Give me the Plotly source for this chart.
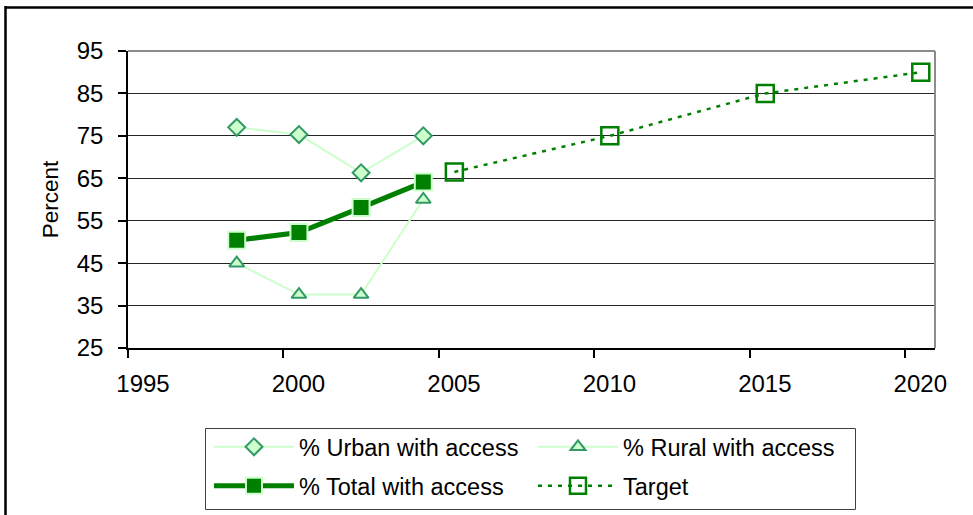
import plotly.graph_objects as go

# Survey rounds (mid-year) and access rates, percent
survey_dates = ["1998-07-01", "2000-07-01", "2002-07-01", "2004-07-01"]
urban_access = [77.0, 75.3, 66.3, 75.0]
rural_access = [45.0, 37.6, 37.6, 60.0]
total_access = [50.4, 52.2, 58.1, 64.1]

# Target path
target_dates = ["2005-07-01", "2010-07-01", "2015-07-01", "2020-07-01"]
target_values = [66.5, 75.0, 85.0, 90.0]

tick_years = [1995, 2000, 2005, 2010, 2015, 2020]

FONT = "Liberation Sans, Arial, sans-serif"
PALE = "#CCFFCC"
SEA = "#339966"
GREEN = "#008000"

fig = go.Figure()

fig.add_trace(go.Scatter(
    x=survey_dates, y=urban_access, name="% Urban with access",
    mode="lines+markers", legend="legend",
    line=dict(color=PALE, width=2),
    marker=dict(symbol="diamond", size=13, color=PALE,
                line=dict(color=SEA, width=2)),
))
fig.add_trace(go.Scatter(
    x=survey_dates, y=rural_access, name="% Rural with access",
    mode="lines+markers", legend="legend",
    line=dict(color=PALE, width=2),
    marker=dict(symbol="triangle-up", size=13, color=PALE,
                line=dict(color=SEA, width=2)),
))
fig.add_trace(go.Scatter(
    x=survey_dates, y=total_access, name="% Total with access",
    mode="lines+markers", legend="legend2",
    line=dict(color=GREEN, width=5),
    marker=dict(symbol="square", size=17, color=GREEN,
                line=dict(color=PALE, width=2)),
))
fig.add_trace(go.Scatter(
    x=target_dates, y=target_values, name="Target",
    mode="lines+markers", legend="legend2",
    line=dict(color=GREEN, width=2.5, dash="4px,6px"),
    marker=dict(symbol="square-open", size=17, color=GREEN,
                line=dict(color=GREEN, width=2.5)),
))

# plot-area geometry in pixels
W, H = 973, 515
ML, MR, MT, MB = 128, 38, 51, 167
PW, PH = W - ML - MR, H - MT - MB


def px(xp):
    return (xp - ML) / PW


def py(yp):
    return (H - MB - yp) / PH


shapes = [
    # grey frame on top and right of the plot area
    dict(type="line", xref="paper", yref="paper", x0=0, x1=1, y0=1, y1=1,
         line=dict(color="#8c8c8c", width=2), layer="above"),
    dict(type="line", xref="paper", yref="paper", x0=1, x1=1, y0=0, y1=1,
         line=dict(color="#8c8c8c", width=2), layer="above"),
    # outer chart border
    dict(type="line", xref="paper", yref="paper", x0=px(5), x1=px(980),
         y0=py(7.5), y1=py(7.5), line=dict(color="black", width=2.5), layer="above"),
    dict(type="line", xref="paper", yref="paper", x0=px(5.5), x1=px(5.5),
         y0=py(6), y1=py(520), line=dict(color="black", width=2.5), layer="above"),
    # legend box
    dict(type="rect", xref="paper", yref="paper", x0=px(205.5), x1=px(855.5),
         y0=py(428.5), y1=py(509.5), line=dict(color="#404040", width=1),
         fillcolor="rgba(0,0,0,0)", layer="above"),
]

legend_common = dict(
    orientation="h", xanchor="left", yanchor="top",
    borderwidth=0, bgcolor="rgba(0,0,0,0)",
    font=dict(family=FONT, size=23.5, color="black"),
    itemwidth=80, entrywidth=229, entrywidthmode="pixels",
    traceorder="normal", itemclick=False, itemdoubleclick=False,
)

fig.update_layout(
    width=W, height=H,
    margin=dict(l=ML, r=MR, t=MT, b=MB, autoexpand=False),
    paper_bgcolor="white", plot_bgcolor="white",
    font=dict(family=FONT, size=22.5, color="black"),
    showlegend=True,
    legend=dict(x=px(209), y=py(425), **legend_common),
    legend2=dict(x=px(209), y=py(464), **legend_common),
    shapes=shapes,
    xaxis=dict(
        type="date",
        range=["1995-01-01", "2020-12-15"],
        tickvals=[f"{y}-01-01" for y in tick_years],
        ticktext=[str(y) for y in tick_years],
        ticks="outside", ticklen=8, tickwidth=1.5, tickcolor="black",
        ticklabelshift=15, ticklabelstandoff=5,
        showline=True, linecolor="black", linewidth=1.5,
        showgrid=False, zeroline=False,
        tickfont=dict(family=FONT, size=24, color="black"),
    ),
    yaxis=dict(
        range=[25, 95], tick0=25, dtick=10,
        ticks="outside", ticklen=8, tickwidth=1.5, tickcolor="black",
        ticklabelstandoff=10,
        showline=True, linecolor="black", linewidth=1.5,
        showgrid=True, gridcolor="#262626", gridwidth=1.3,
        zeroline=False,
        tickfont=dict(family=FONT, size=24, color="black"),
        title=dict(text="Percent", standoff=12,
                   font=dict(family=FONT, size=22.5, color="black")),
    ),
)

fig.write_html("out.html")
